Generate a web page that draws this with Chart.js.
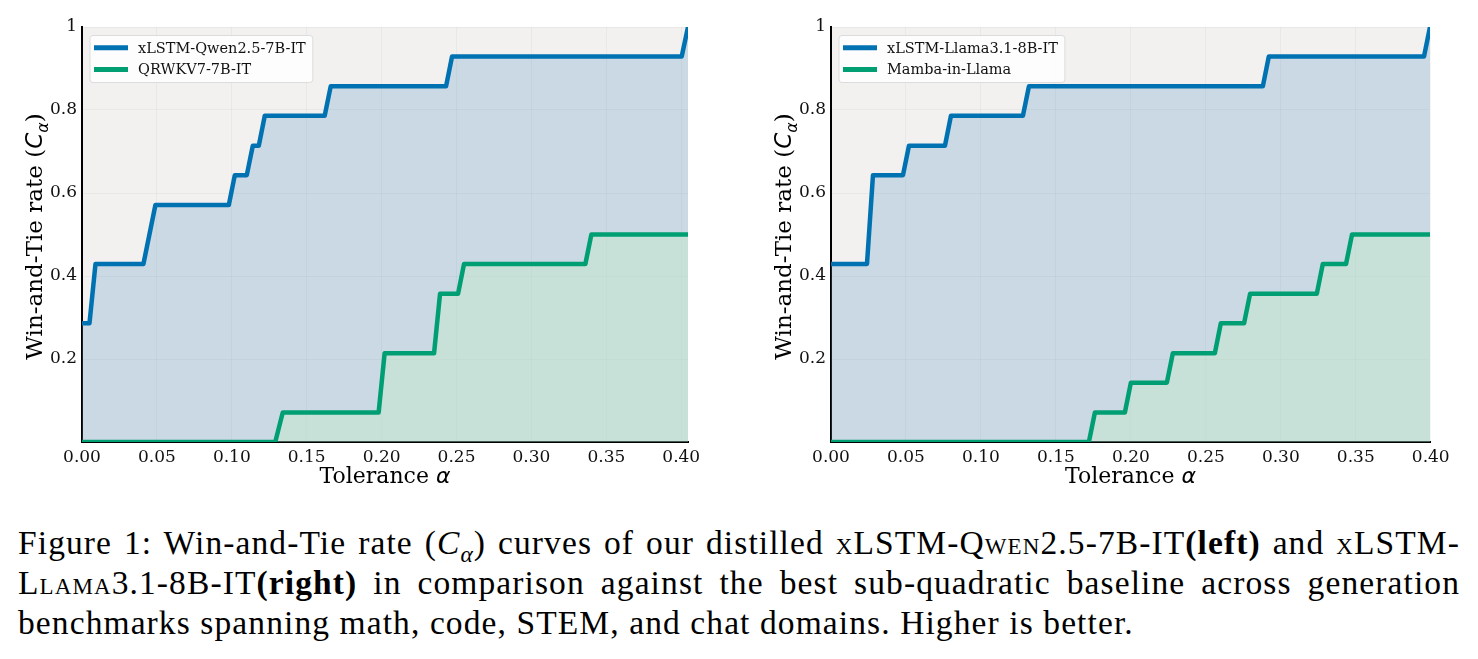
<!DOCTYPE html>
<html>
<head>
<meta charset="utf-8">
<script src="https://cdn.jsdelivr.net/npm/chart.js@4.4.1/dist/chart.umd.min.js"></script>
<style>
  html, body { margin: 0; padding: 0; background: #fff; }
  body { width: 1478px; height: 659px; position: relative; overflow: hidden; }
  canvas { position: absolute; top: 0; }
  #chart-left { left: 0; }
  #chart-right { left: 749px; }
  .caption { position: absolute; left: 18px; top: 523px; width: 1442px;
    font-family: "Liberation Serif", serif; font-size: 33.5px; letter-spacing: 1.1px;
    line-height: 40px; color: #000; }
  .caption div { white-space: nowrap; }
  .caption .j { text-align: justify; text-align-last: justify; }
  .sc { font-variant: small-caps; }
  sub { font-size: 0.7em; line-height: 0; }
</style>
</head>
<body>
<canvas id="chart-left" width="740" height="500"></canvas>
<canvas id="chart-right" width="729" height="500"></canvas>
<div class="caption">
  <div class="j">Figure 1: Win-and-Tie rate (<i>C</i><sub><i>α</i></sub>) curves of our distilled <span class="sc">xLSTM-Qwen</span>2.5-7B-IT<b>(left)</b> and <span class="sc">xLSTM-</span></div>
  <div class="j"><span class="sc">Llama</span>3.1-8B-IT<b>(right)</b> in comparison against the best sub-quadratic baseline across generation</div>
  <div>benchmarks spanning math, code, STEM, and chat domains. Higher is better.</div>
</div>
<script>
// tick labels
const xTicks = [0, 0.05, 0.10, 0.15, 0.20, 0.25, 0.30, 0.35, 0.40];
const yTicks = [0.2, 0.4, 0.6, 0.8, 1];

// left panel: xLSTM-Qwen2.5-7B-IT vs QRWKV7-7B-IT
const qwenAlpha = [0, 0.005, 0.009, 0.041, 0.049, 0.098, 0.102, 0.110, 0.114, 0.118, 0.122, 0.162, 0.166, 0.243, 0.247, 0.4003, 0.4045];
const qwenRate  = [0.286, 0.286, 0.429, 0.429, 0.571, 0.571, 0.643, 0.643, 0.714, 0.714, 0.786, 0.786, 0.857, 0.857, 0.929, 0.929, 1.0];
const qrwkvAlpha = [0, 0.129, 0.134, 0.198, 0.202, 0.235, 0.239, 0.251, 0.255, 0.336, 0.340, 0.4045];
const qrwkvRate  = [0, 0, 0.071, 0.071, 0.214, 0.214, 0.357, 0.357, 0.429, 0.429, 0.5, 0.5];

// right panel: xLSTM-Llama3.1-8B-IT vs Mamba-in-Llama
const llamaAlpha = [0, 0.024, 0.028, 0.048, 0.052, 0.076, 0.080, 0.128, 0.132, 0.288, 0.292, 0.3955, 0.3995];
const llamaRate  = [0.429, 0.429, 0.643, 0.643, 0.714, 0.714, 0.786, 0.786, 0.857, 0.857, 0.929, 0.929, 1.0];
const mambaAlpha = [0, 0.172, 0.176, 0.196, 0.200, 0.224, 0.228, 0.256, 0.260, 0.2755, 0.2795, 0.324, 0.328, 0.3435, 0.3475, 0.3995];
const mambaRate  = [0, 0, 0.071, 0.071, 0.143, 0.143, 0.214, 0.214, 0.286, 0.286, 0.357, 0.357, 0.429, 0.429, 0.5, 0.5];

const BLUE = '#0072b2';
const GREEN = '#009e73';
const SERIF = '"DejaVu Serif", serif';

function serie(label, xs, ys, color, fill, order) {
  return {
    label,
    data: xs.map((x, i) => ({ x, y: ys[i] })),
    borderColor: color,
    backgroundColor: fill,
    borderWidth: 4.5,
    borderJoinStyle: 'round',
    fill: 'origin',
    pointRadius: 0,
    tension: 0,
    clip: 0,
    order
  };
}

const fondo = {
  id: 'fondo',
  beforeDraw(chart) {
    const { ctx, chartArea: a } = chart;
    ctx.save();
    ctx.fillStyle = '#f2f1f0';
    ctx.fillRect(a.left, a.top, a.right - a.left, a.bottom - a.top);
    ctx.restore();
  }
};

// little rich-text helper for the axis titles (italic C, subscript alpha)
function runFont(r, size) {
  const fam = r.math ? '"DejaVu Sans", sans-serif' : SERIF;
  return `${r.math ? 'italic ' : ''}${r.sub ? Math.round(size * 0.7) : size}px ${fam}`;
}
function drawRuns(ctx, runs, size) {
  let w = 0;
  runs.forEach(r => { ctx.font = runFont(r, size); w += ctx.measureText(r.t).width; });
  let x = -w / 2;
  runs.forEach(r => {
    ctx.font = runFont(r, size);
    ctx.fillText(r.t, x, r.sub ? size * 0.28 : 0);
    x += ctx.measureText(r.t).width;
  });
}

const xTitle = [{ t: 'Tolerance ' }, { t: 'α', math: true }];
const yTitle = [{ t: 'Win-and-Tie rate (' }, { t: 'C', math: true }, { t: 'α', math: true, sub: true }, { t: ')' }];

const titulos = {
  id: 'titulos',
  afterDraw(chart) {
    const { ctx, chartArea: a } = chart;
    ctx.save();
    ctx.fillStyle = '#000';
    ctx.textBaseline = 'alphabetic';
    ctx.translate((a.left + a.right) / 2, 483);
    drawRuns(ctx, xTitle, 22);
    ctx.restore();

    ctx.save();
    ctx.fillStyle = '#000';
    ctx.textBaseline = 'alphabetic';
    ctx.translate(a.left - 40, (a.top + a.bottom) / 2 + 2);
    ctx.rotate(-Math.PI / 2);
    drawRuns(ctx, yTitle, 23);
    ctx.restore();
  }
};

const leyenda = {
  id: 'leyenda',
  afterDraw(chart) {
    const { ctx, chartArea: a } = chart;
    const sets = chart.data.datasets;
    ctx.save();
    ctx.font = `14.5px ${SERIF}`;
    const textW = Math.max(...sets.map(d => ctx.measureText(d.label).width));
    const x0 = a.left + 8, y0 = a.top + 8.5;
    const w = 4 + 34 + 10 + textW + 7, h = 47;
    ctx.fillStyle = 'rgba(255,255,255,0.85)';
    ctx.strokeStyle = '#dcdcdc';
    ctx.lineWidth = 1;
    ctx.beginPath();
    ctx.roundRect(x0, y0, w, h, 3);
    ctx.fill();
    ctx.stroke();
    sets.forEach((d, i) => {
      const cy = y0 + 12.3 + i * 21.7;
      ctx.strokeStyle = d.borderColor;
      ctx.lineWidth = 5;
      ctx.beginPath();
      ctx.moveTo(x0 + 4, cy);
      ctx.lineTo(x0 + 38, cy);
      ctx.stroke();
      ctx.fillStyle = '#111';
      ctx.textBaseline = 'middle';
      ctx.fillText(d.label, x0 + 48, cy + 1);
    });
    ctx.restore();
  }
};

function buildPanel(canvasId, xMax, padRight, datasets) {
  return new Chart(document.getElementById(canvasId), {
    type: 'line',
    data: { datasets },
    plugins: [fondo, titulos, leyenda],
    options: {
      responsive: false,
      animation: false,
      layout: { padding: { top: 27, right: padRight, left: 0, bottom: 0 } },
      plugins: { legend: { display: false }, tooltip: { enabled: false } },
      scales: {
        x: {
          type: 'linear', min: 0, max: xMax,
          afterBuildTicks: s => { s.ticks = xTicks.map(value => ({ value })); },
          afterFit: s => { s.height = 58; },
          grid: { color: 'rgba(0,0,0,0.035)', drawTicks: false },
          border: { display: true, color: '#000', width: 2 },
          ticks: { color: '#111', padding: 5, maxRotation: 0, font: { family: SERIF, size: 17 },
                   callback: v => v.toFixed(2) }
        },
        y: {
          min: 0, max: 1,
          afterBuildTicks: s => { s.ticks = yTicks.map(value => ({ value })); },
          afterFit: s => { s.width = 82; },
          grid: { color: 'rgba(0,0,0,0.035)', drawTicks: false },
          border: { display: true, color: '#000', width: 2 },
          ticks: { color: '#111', padding: 5, font: { family: SERIF, size: 17 },
                   callback: v => (v === 1 ? '1' : v.toFixed(1)) }
        }
      }
    }
  });
}

buildPanel('chart-left', 0.4045, 740 - 82 - 606, [
  serie('xLSTM-Qwen2.5-7B-IT', qwenAlpha, qwenRate, BLUE, 'rgba(82,149,188,0.25)', 1),
  serie('QRWKV7-7B-IT', qrwkvAlpha, qrwkvRate, GREEN, 'rgba(194,250,183,0.25)', 0)
]);

buildPanel('chart-right', 0.3995, 729 - 82 - 599, [
  serie('xLSTM-Llama3.1-8B-IT', llamaAlpha, llamaRate, BLUE, 'rgba(82,149,188,0.25)', 1),
  serie('Mamba-in-Llama', mambaAlpha, mambaRate, GREEN, 'rgba(194,250,183,0.25)', 0)
]);
</script>
</body>
</html>
